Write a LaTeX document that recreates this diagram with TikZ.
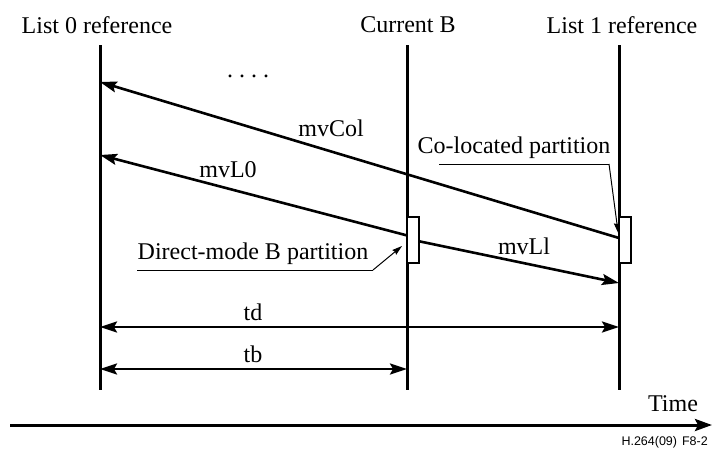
\documentclass[tikz,border=0pt]{standalone}
\usepackage{fontspec}
\setmainfont{Liberation Serif}
\newfontfamily\labelsans{Liberation Sans}
\usetikzlibrary{arrows.meta}
\begin{document}
\begin{tikzpicture}[x=1pt,y=-1pt,
  lbl/.style={font=\fontsize{24}{26}\selectfont, inner sep=0pt},
  timeline/.style={line width=3pt},
  mvarrow/.style={line width=2.6pt,-{Stealth[length=17pt,width=11pt,inset=3pt]}},
  dimarrow/.style={line width=2.6pt,{Stealth[length=17pt,width=11pt,inset=3pt]}-{Stealth[length=17pt,width=11pt,inset=3pt]}},
  leader/.style={line width=1pt,-{Stealth[length=10pt,width=6pt,inset=1pt]}},
  partbox/.style={draw, line width=1.6pt, fill=white, minimum width=12pt, minimum height=46pt, inner sep=0pt}
]
\useasboundingbox (0,0) rectangle (712,459);

% vertical time lines
\coordinate (l0t) at (100,45);  \coordinate (l0b) at (100,390);
\coordinate (cbt) at (407,45);  \coordinate (cbb) at (407,390);
\coordinate (l1t) at (619,45);  \coordinate (l1b) at (619,390);
\draw[timeline] (l0t) -- (l0b);
\draw[timeline] (cbt) -- (cbb);
\draw[timeline] (l1t) -- (l1b);

% headings
\node[lbl] (h0) at (97,25) {List 0 reference};
\node[lbl] (hb) at (408,25) {Current B};
\node[lbl] (h1) at (622,25) {List 1 reference};

% arrow end points
\coordinate (colend) at (100,82);
\coordinate (l0end) at (100,155);
\coordinate (l1end) at (619,283);
\coordinate (colstart) at (619,238);
\coordinate (l0start) at (413,237);
\coordinate (l1start) at (413,240);

% motion vectors
\draw[mvarrow] (colstart) -- (colend);
\draw[mvarrow] (l0start) -- (l0end);
\draw[mvarrow] (l1start) -- (l1end);

% partitions
\node[partbox] (pb) at (413,240) {};
\node[partbox] (pc) at (625,240) {};

% labels
\node[lbl] (dots) at (248,76) {.\hspace{6pt}.\hspace{6pt}.\hspace{6pt}.};
\node[lbl] (mvcol) at (331,128) {mvCol};
\node[lbl] (mvl0) at (228,170) {mvL0};
\node[lbl] (mvl1) at (524,246) {mvLl};

% Co-located partition callout
\node[lbl] (colab) at (514,148) {Co-located partition};
\coordinate (cu0) at (439,164);
\coordinate (cu1) at (609,164);
\draw[line width=1pt] (cu0) -- (cu1);
\draw[leader] (cu1) -- (pc.west |- 0,233);

% Direct-mode partition callout
\node[lbl] (dmlab) at (253,254) {Direct-mode B partition};
\coordinate (du0) at (137,270);
\coordinate (du1) at (373,270);
\draw[line width=1pt] (du0) -- (du1);
\draw[leader] (du1) -- (402,246);

% distances
\coordinate (tds) at (100,327); \coordinate (tde) at (619,327);
\coordinate (tbs) at (100,369); \coordinate (tbe) at (407,369);
\draw[dimarrow] (tds) -- (tde);
\draw[dimarrow] (tbs) -- (tbe);
\node[lbl] (td) at (253,312) {td};
\node[lbl] (tb) at (253,354) {tb};

% time axis
\coordinate (ta0) at (10,425);
\coordinate (ta1) at (712,425);
\draw[line width=3pt,-{Stealth[length=17pt,width=12pt,inset=3pt]}] (ta0) -- (ta1);
\node[lbl] (time) at (673,404) {Time};
\node[font=\labelsans\fontsize{12.5}{14}\selectfont, anchor=east, inner sep=0pt] (fig) at (708,442) {H.264(09)\hspace{5pt}F8-2};
\end{tikzpicture}
\end{document}
